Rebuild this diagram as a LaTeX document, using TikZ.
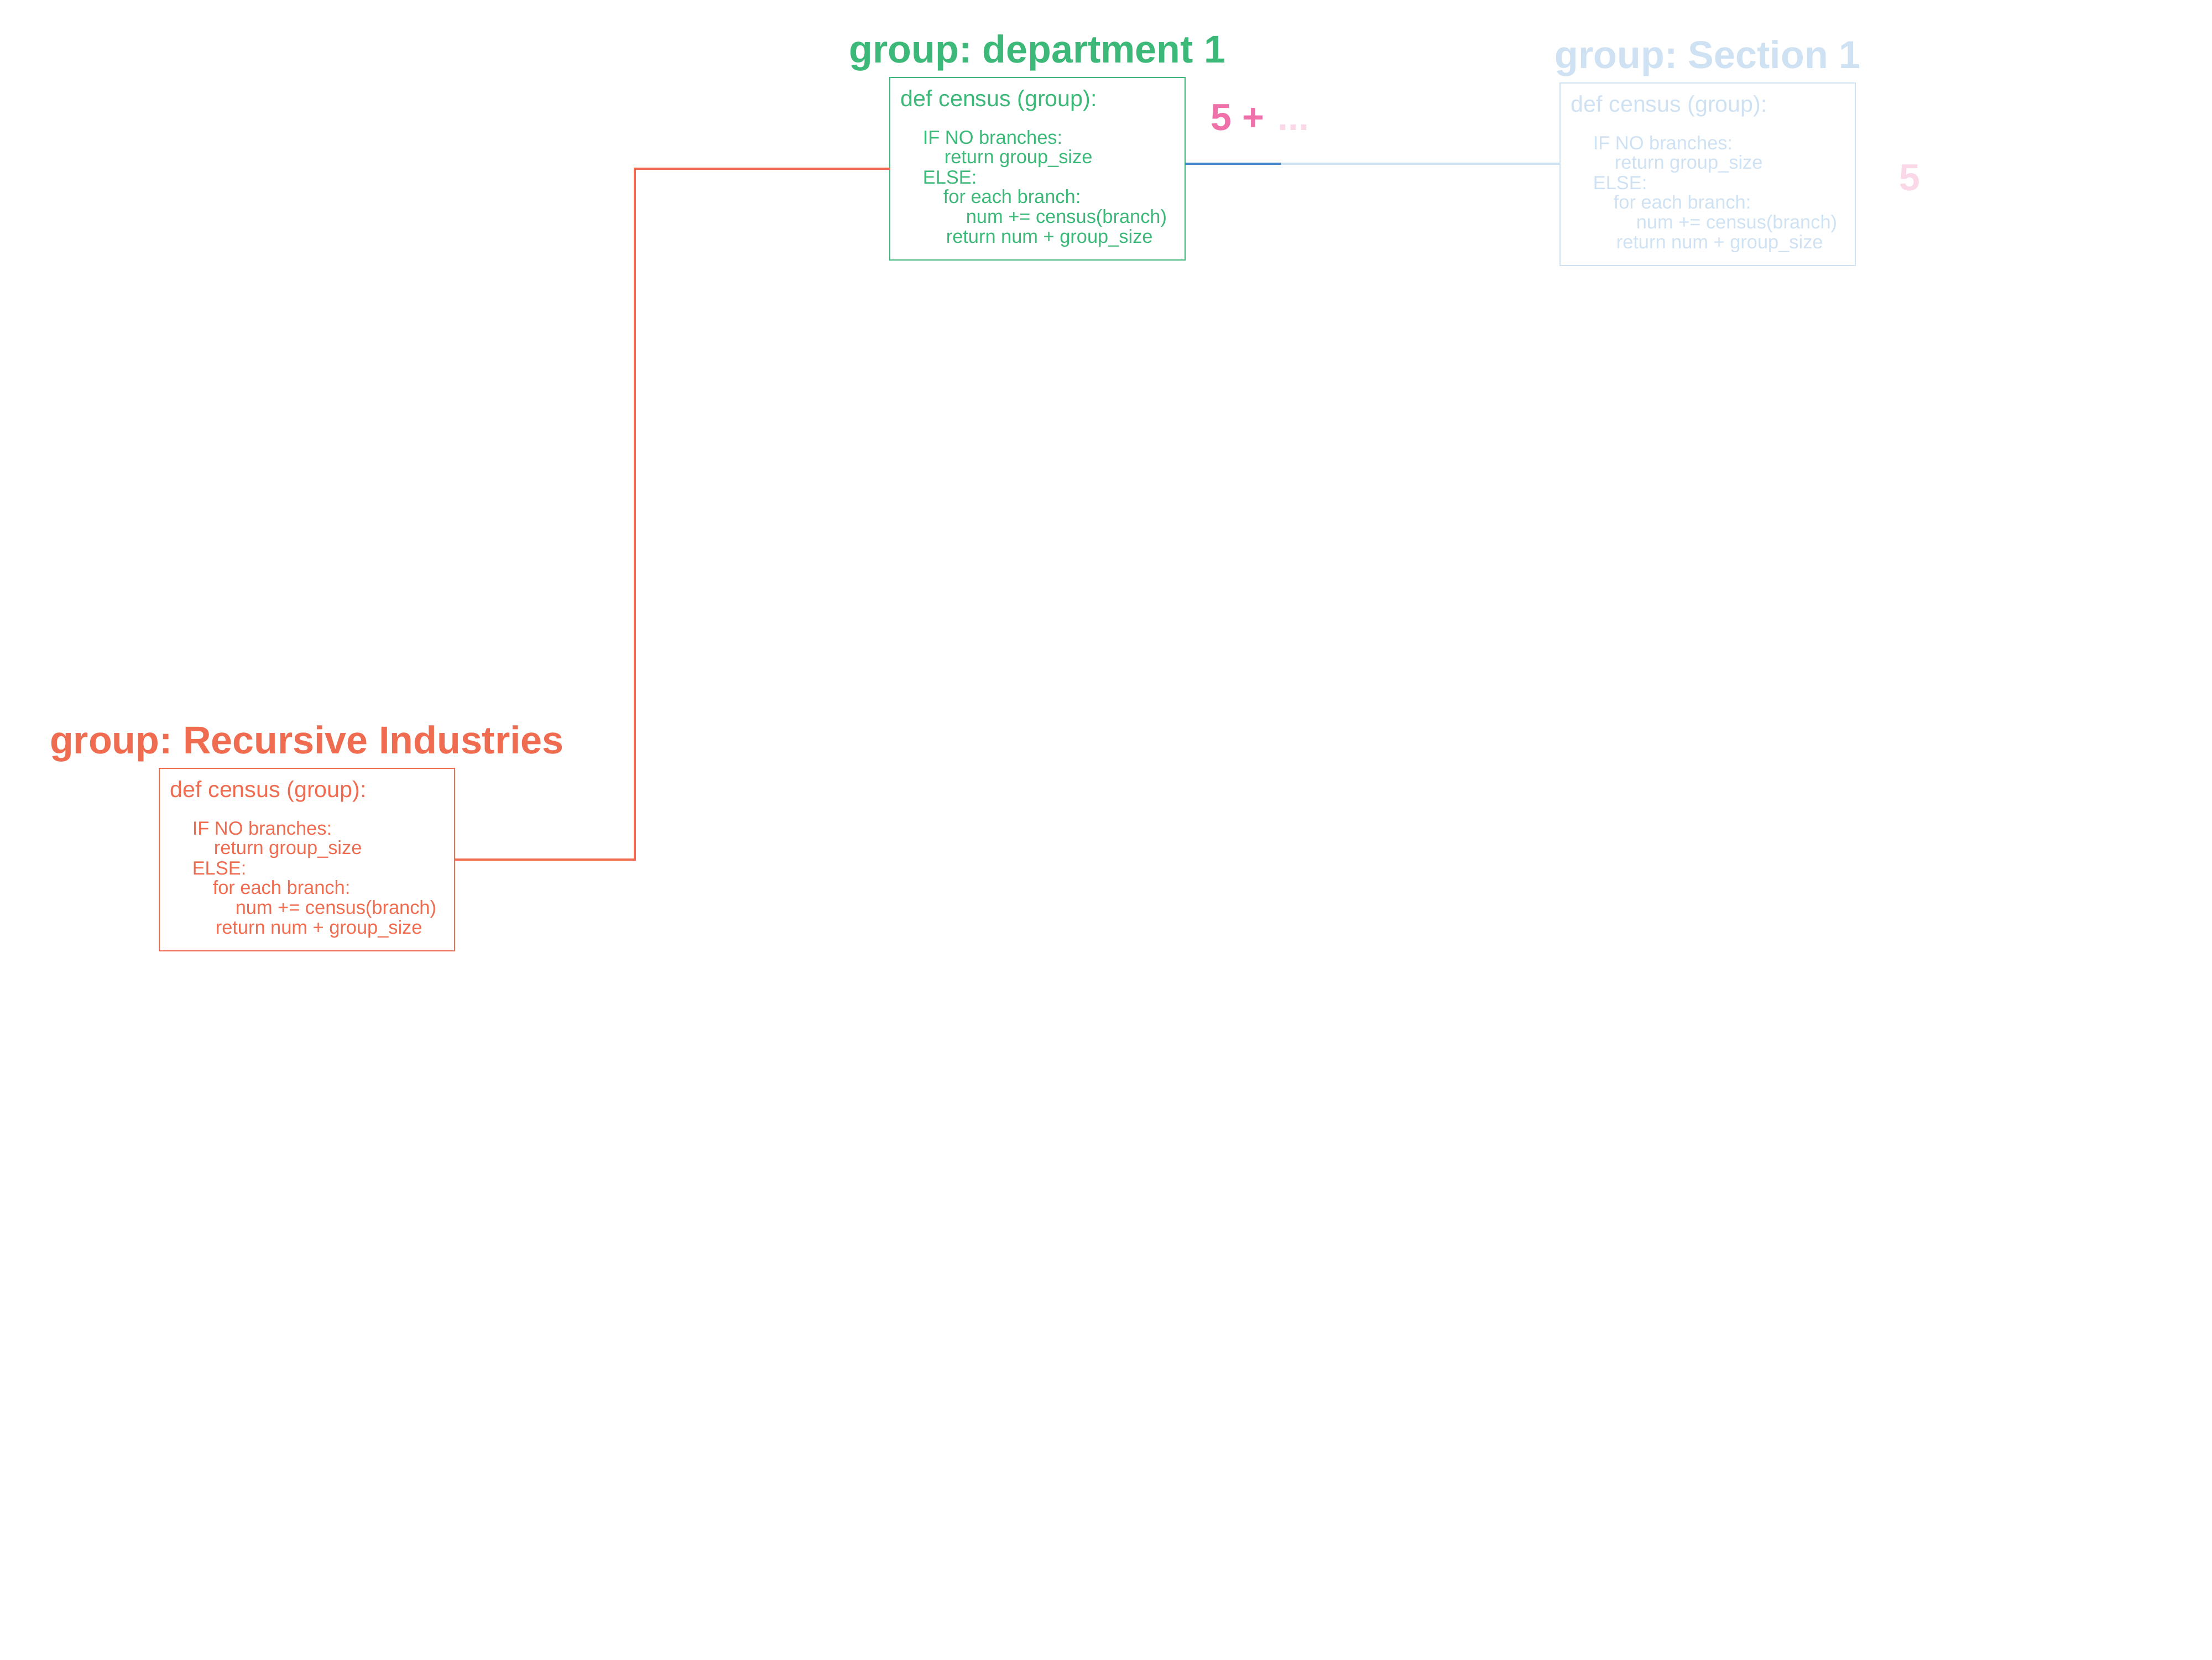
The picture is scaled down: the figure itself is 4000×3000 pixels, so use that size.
\documentclass[tikz,border=0pt]{standalone}
\usepackage{fontspec}
\setmainfont{Liberation Sans}
\usetikzlibrary{calc}
\frenchspacing
\definecolor{corange}{RGB}{240,108,80}
\definecolor{cgreen}{RGB}{60,184,120}
\definecolor{clblue}{RGB}{207,226,243}
\definecolor{cdblue}{RGB}{68,138,202}
\definecolor{cpink}{RGB}{240,112,170}
\definecolor{clpink}{RGB}{250,216,232}
\newcommand\CensusBox[5]{%
  \node[boxst, draw=#2, anchor=north west] (#1) at (#3,#4) {};
  \node[titlest, text=#2] (#1t) at ($(#1.north)+(0,-27)$) {#5};
  \node[headst, text=#2] (#1l0) at ($(#1.north west)+(19,52)$) {def census (group):};
  \node[codest, text=#2] (#1l1) at ($(#1.north west)+(59,120)$) {IF NO branches:};
  \node[codest, text=#2] (#1l2) at ($(#1.north west)+(98,155)$) {return group\_size};
  \node[codest, text=#2] (#1l3) at ($(#1.north west)+(59,192)$) {ELSE:};
  \node[codest, text=#2] (#1l4) at ($(#1.north west)+(96,227)$) {for each branch:};
  \node[codest, text=#2] (#1l5) at ($(#1.north west)+(137,263)$) {num += census(branch)};
  \node[codest, text=#2] (#1l6) at ($(#1.north west)+(101,299)$) {return num + group\_size};
}
\begin{document}
\begin{tikzpicture}[x=0.25pt,y=-0.25pt,
  boxst/.style={line width=0.65pt, minimum width=133.5pt, minimum height=82.5pt, inner sep=0pt, outer sep=0pt},
  titlest/.style={anchor=base, inner sep=0pt, font=\fontsize{17.5pt}{21pt}\selectfont\bfseries},
  headst/.style={anchor=base west, inner sep=0pt, font=\fontsize{10.3pt}{12pt}\selectfont},
  codest/.style={anchor=base west, inner sep=0pt, font=\fontsize{8.6pt}{10pt}\selectfont},
  numst/.style={anchor=base west, inner sep=0pt, font=\fontsize{17pt}{20pt}\selectfont\bfseries},
  link/.style={line width=1.1pt}]
\useasboundingbox (0,0) rectangle (4000,3000);
\fill[white] (0,0) rectangle (4000,3000);
\CensusBox{b1}{corange}{288}{1389}{group: Recursive Industries}
\CensusBox{b2}{cgreen}{1609}{140}{group: department 1}
\CensusBox{b3}{clblue}{2821}{150}{group: Section 1}
\coordinate (j1) at (1148,0);
\draw[link, corange] (b1.east) -| (j1 |- b2.west) -- (b2.west);
\coordinate (bs) at ($(b2.east)+(0,-9)$);
\coordinate (bm) at (2316,0);
\draw[link, clblue] (bm |- bs) -- (b3.west |- bs);
\draw[link, cdblue] (bs) -- (bm |- bs);
\node[numst, text=cpink] (s1) at (2189,235) {5 +\hspace{6pt}\textcolor{clpink}{...}};
\node[numst, text=clpink] (s2) at (3434,344) {5};
\end{tikzpicture}
\end{document}
